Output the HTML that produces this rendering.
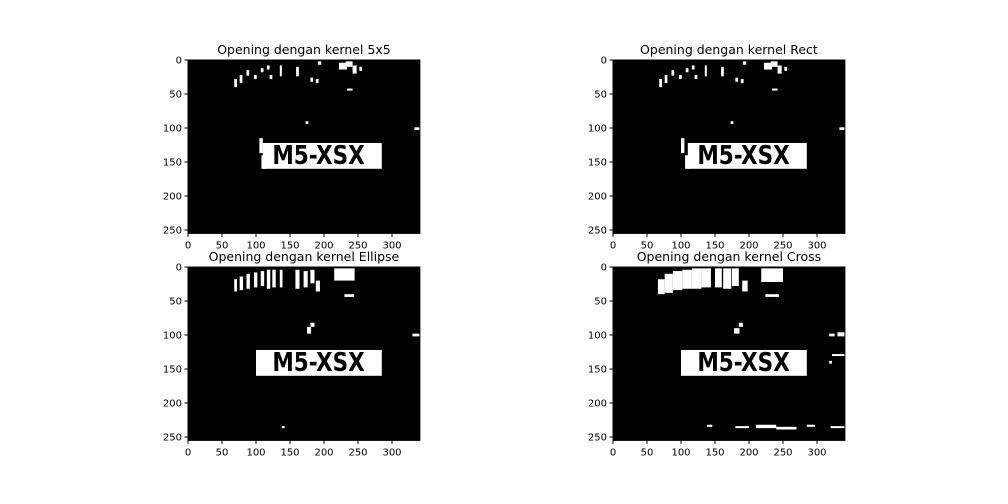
<!DOCTYPE html>
<html><head><meta charset="utf-8">
<style>
body{margin:0;background:#fff;}
svg{display:block;font-family:"DejaVu Sans","Liberation Sans",sans-serif;}
</style></head>
<body>
<svg id="fig" width="1008" height="504" viewBox="0 0 1008 504" xmlns="http://www.w3.org/2000/svg">
<rect width="1008" height="504" fill="#fff"/>
</svg>
<script>
const titles = ["Opening dengan kernel 5x5","Opening dengan kernel Rect","Opening dengan kernel Ellipse","Opening dengan kernel Cross"];
const xTicks = [0,50,100,150,200,250,300];
const yTicks = [0,50,100,150,200,250];
const imgW = 341, imgH = 255;
const plate = [100,122,185,38];
const plateText = "M5-XSX";
const blobsA = [[68,28,4,12],[76,22,4,12],[86,15,4,8],[97,22,4,6],[107,12,4,6],[116,8,4,6],[120,22,4,6],[135,8,3,16],[159,10,4,14],[180,26,4,6],[188,28,4,6],[191,2,5,5],[222,4,12,10],[232,2,10,8],[242,8,6,12],[252,10,4,6],[234,42,8,3],[173,90,4,4],[333,99,9,4],[105,115,5,22],[108,140,8,20]];
const blobsB = [[68,28,4,12],[76,22,4,12],[86,15,4,8],[97,22,4,6],[107,12,4,6],[116,8,4,6],[120,22,4,6],[135,8,3,16],[159,10,4,14],[180,26,4,6],[188,28,4,6],[191,2,5,5],[222,4,12,10],[232,2,10,8],[242,8,6,12],[252,10,4,6],[234,42,8,3],[173,90,4,4],[333,99,9,4],[100,115,5,22],[106,140,8,20]];
const blobsC = [[68,18,4,18],[76,14,5,20],[86,10,5,22],[97,8,5,22],[107,6,5,22],[116,4,5,28],[124,4,5,26],[135,4,4,26],[158,4,6,28],[170,6,6,24],[180,4,6,20],[188,20,6,16],[215,2,30,18],[230,40,14,4],[175,88,6,10],[180,82,6,6],[330,98,12,4],[138,234,4,3]];
const blobsD = [[66,18,10,22],[76,10,12,28],[88,6,14,28],[102,4,14,28],[116,2,14,30],[130,2,14,28],[150,2,10,28],[162,2,12,30],[175,2,10,26],[190,20,8,16],[218,2,32,20],[224,40,20,4],[178,90,8,8],[185,82,6,6],[318,98,8,4],[330,96,12,6],[322,128,20,3],[318,138,4,4],[138,232,8,3],[180,234,20,3],[210,232,30,5],[240,235,30,4],[285,232,12,3],[320,234,22,3]];
const blobsSets = [blobsA,blobsB,blobsC,blobsD];
const origins = [[188,60],[613,60],[188,267],[613,267]];
const sc = 0.68;
const NS="http://www.w3.org/2000/svg";
const fig=document.getElementById('fig');
function mk(tag,attrs,parent){const e=document.createElementNS(NS,tag);for(const k in attrs)e.setAttribute(k,attrs[k]);(parent||fig).appendChild(e);return e;}
origins.forEach((o,i)=>{
  const sx=u=>o[0]+u*sc, sy=u=>o[1]+u*sc;
  const g=mk('g',{});
  
  
  const bg=mk('rect',{x:sx(0),y:sy(0),width:imgW*sc,height:imgH*sc,fill:'#000'},g);
  
  
  blobsSets[i].forEach(b=>{
    const r=mk('rect',{x:sx(b[0]),y:sy(b[1]),width:b[2]*sc,height:b[3]*sc,fill:'#fff'},g);
    
    
  });
  const p=mk('rect',{x:sx(plate[0]+(i<2?10:0)),y:sy(plate[1]),width:(plate[2]-(i<2?10:0))*sc,height:plate[3]*sc,fill:'#fff'},g);
  
  
  const t=mk('text',{x:sx(plate[0]+24),y:sy(plate[1]+31),'font-size':26,'font-weight':'600',fill:'#000',textLength:136*sc,lengthAdjust:'spacingAndGlyphs'},g);
  t.textContent=plateText;
  
  
  const fr=mk('rect',{x:sx(0),y:sy(0),width:imgW*sc,height:imgH*sc,fill:'none',stroke:'#000','stroke-width':1},g);
  
  
  xTicks.forEach(v=>{
    mk('line',{x1:sx(v),x2:sx(v),y1:sy(imgH),y2:sy(imgH)+3.5,stroke:'#000'},g);
    const l=mk('text',{x:sx(v),y:sy(imgH)+15,'font-size':10,'text-anchor':'middle',fill:'#000'},g);
    l.textContent=v;
    
    
  });
  yTicks.forEach(v=>{
    mk('line',{x1:sx(0),x2:sx(0)-3.5,y1:sy(v),y2:sy(v),stroke:'#000'},g);
    const l=mk('text',{x:sx(0)-6,y:sy(v)+3.5,'font-size':10,'text-anchor':'end',fill:'#000'},g);
    l.textContent=v;
    
    
  });
  const tt=mk('text',{x:sx(imgW/2),y:o[1]-6,'font-size':12.5,'text-anchor':'middle',fill:'#000'},g);
  tt.textContent=titles[i];
  
  
});
</script>
</body></html>
